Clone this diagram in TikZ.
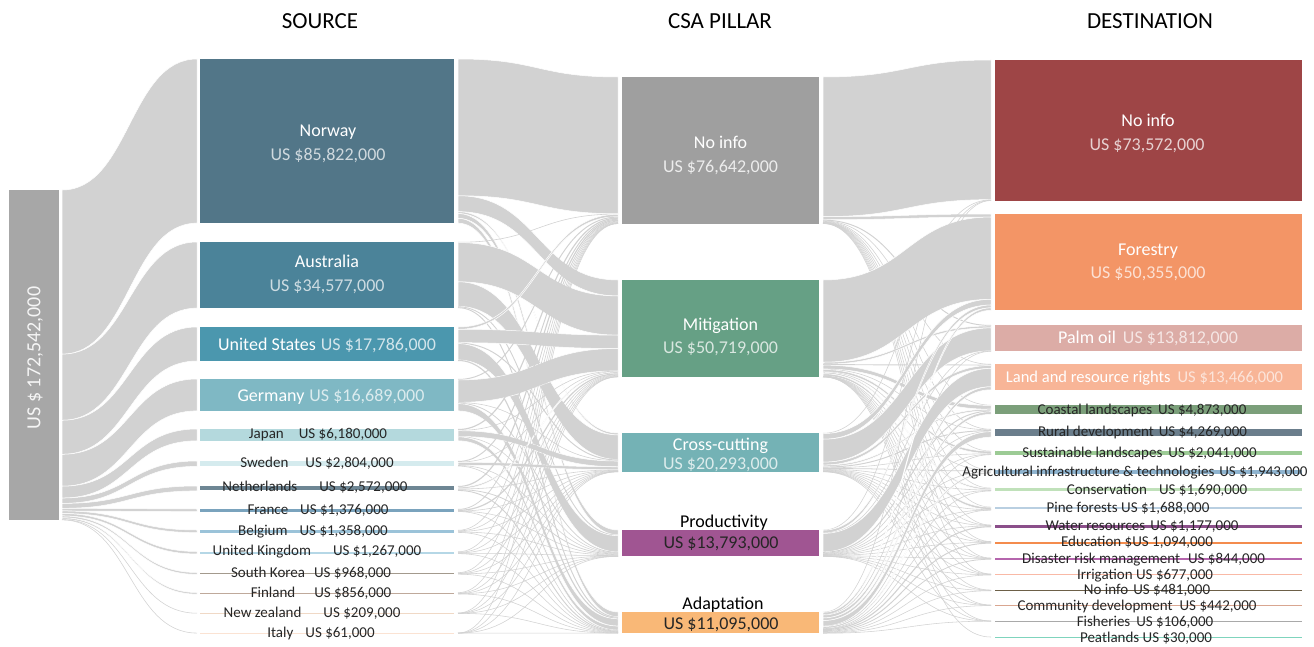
\documentclass[tikz,border=0pt]{standalone}
\usepackage{fontspec}
\setmainfont{Carlito}
\definecolor{linkgray}{HTML}{D2D2D2}
\definecolor{cTot}{HTML}{A7A7A7}
\definecolor{cNor}{HTML}{527688}
\definecolor{cAus}{HTML}{4B8399}
\definecolor{cUsa}{HTML}{4B97AE}
\definecolor{cGer}{HTML}{7FB8C4}
\definecolor{cJpn}{HTML}{B4D9DD}
\definecolor{cSwe}{HTML}{D5EBEE}
\definecolor{cNed}{HTML}{6E8694}
\definecolor{cFra}{HTML}{7AA3BD}
\definecolor{cBel}{HTML}{9BC3D9}
\definecolor{cGbr}{HTML}{B5D7E6}
\definecolor{cKor}{HTML}{A39A8D}
\definecolor{cFin}{HTML}{BFA99B}
\definecolor{cNzl}{HTML}{F0D9C6}
\definecolor{cIta}{HTML}{FBE3D3}
\definecolor{cPni}{HTML}{9F9F9F}
\definecolor{cMit}{HTML}{66A085}
\definecolor{cCrs}{HTML}{74B2B5}
\definecolor{cPro}{HTML}{A05592}
\definecolor{cAda}{HTML}{F9B877}
\definecolor{cDni}{HTML}{9E4546}
\definecolor{cDfo}{HTML}{F39566}
\definecolor{cDpa}{HTML}{DCACA6}
\definecolor{cDla}{HTML}{F8B597}
\definecolor{cDco}{HTML}{7B9F7A}
\definecolor{cDru}{HTML}{6B7E8C}
\definecolor{cDsu}{HTML}{9CCB95}
\definecolor{cDag}{HTML}{8FB4CF}
\definecolor{cDcn}{HTML}{C0E1BA}
\definecolor{cDpi}{HTML}{B9CFE1}
\definecolor{cDwa}{HTML}{8B4F8A}
\definecolor{cDed}{HTML}{F48C4D}
\definecolor{cDdi}{HTML}{B565AD}
\definecolor{cDir}{HTML}{F9B9A6}
\definecolor{cDns}{HTML}{6D6048}
\definecolor{cDcm}{HTML}{D9A690}
\definecolor{cDfi}{HTML}{A9A9A9}
\definecolor{cDpe}{HTML}{7FD4BD}
\def\skscale{1.9126}
\makeatletter
\newcommand\setnode[2]{\expandafter\xdef\csname sk@in@#1\endcsname{#2}\expandafter\xdef\csname sk@out@#1\endcsname{#2}}
\newcommand\sklink[5]{%
  \pgfmathsetmacro\sk@w{#3*\skscale}%
  \edef\sk@ya{\csname sk@out@#1\endcsname}%
  \edef\sk@yb{\csname sk@in@#2\endcsname}%
  \pgfmathsetmacro\sk@yaa{\sk@ya+\sk@w}%
  \pgfmathsetmacro\sk@ybb{\sk@yb+\sk@w}%
  \expandafter\xdef\csname sk@out@#1\endcsname{\sk@yaa}%
  \expandafter\xdef\csname sk@in@#2\endcsname{\sk@ybb}%
  \pgfmathsetmacro\sk@xm{(#4+#5)/2}%
  \ifdim\sk@w pt>1.3pt
    \filldraw[skband] (#4,\sk@ya) .. controls (\sk@xm,\sk@ya) and (\sk@xm,\sk@yb) .. (#5,\sk@yb) -- (#5,\sk@ybb) .. controls (\sk@xm,\sk@ybb) and (\sk@xm,\sk@yaa) .. (#4,\sk@yaa) -- cycle;
  \else
    \pgfmathsetmacro\sk@yc{\sk@ya+\sk@w/2}%
    \pgfmathsetmacro\sk@yd{\sk@yb+\sk@w/2}%
    \pgfmathsetmacro\sk@lw{max(\sk@w,0.55)}%
    \draw[skline, line width=\sk@lw pt] (#4,\sk@yc) .. controls (\sk@xm,\sk@yc) and (\sk@xm,\sk@yd) .. (#5,\sk@yd);
  \fi}
\makeatother
\newcommand\skbox[6]{\node[skbx, fill=#6, minimum width=#4pt, minimum height=#5pt] (#1) at (#2,#3) {};}
\begin{document}
\begin{tikzpicture}[x=1pt,y=-1pt,
  skband/.style={fill=linkgray, draw=white, line width=0.5pt},
  skline/.style={draw=linkgray},
  skbx/.style={anchor=north west, inner sep=0pt, outer sep=0pt, draw=none, rectangle},
  lblS/.style={inner sep=0pt, text height=9.7pt, text depth=0pt, font=\fontsize{15}{18}\selectfont, text=black!85},
  lblB/.style={inner sep=0pt, text height=11.6pt, text depth=0pt, font=\fontsize{18}{21}\selectfont},
  lblT/.style={inner sep=0pt, text height=15pt, text depth=0pt, font=\fontsize{23}{26}\selectfont, text=black}]
\useasboundingbox (0,0) rectangle (1314,647);
\fill[white] (0,0) rectangle (1314,647);
% titles
\node[lblT] (tsrc) at (320,21) {SOURCE};
\node[lblT] (tcsa) at (720,21) {CSA PILLAR};
\node[lblT] (tdst) at (1150,21) {DESTINATION};
% bookkeeping
\setnode{T}{190}
\setnode{nor}{59}\setnode{aus}{242}\setnode{usa}{327}\setnode{ger}{379}
\setnode{jpn}{429}\setnode{swe}{461}\setnode{ned}{486}\setnode{fra}{509}
\setnode{bel}{530}\setnode{gbr}{551.5}\setnode{kor}{572.5}\setnode{fin}{592.5}
\setnode{nzl}{613}\setnode{ita}{633}
\setnode{pni}{77}\setnode{mit}{280}\setnode{crs}{433}\setnode{pro}{530}\setnode{ada}{612}
\setnode{dni}{60}\setnode{dfo}{214}\setnode{dpa}{325}\setnode{dla}{364}
\setnode{dco}{405}\setnode{dru}{429}\setnode{dsu}{451}\setnode{dag}{470}
\setnode{dcn}{488}\setnode{dpi}{507}\setnode{dwa}{525}\setnode{ded}{541.5}
\setnode{ddi}{558}\setnode{dir}{574}\setnode{dns}{590}\setnode{dcm}{605}
\setnode{dfi}{621}\setnode{dpe}{637}
% total -> sources
\sklink{T}{nor}{85.822}{62}{197}
\sklink{T}{aus}{34.577}{62}{197}
\sklink{T}{usa}{17.786}{62}{197}
\sklink{T}{ger}{16.689}{62}{197}
\sklink{T}{jpn}{6.180}{62}{197}
\sklink{T}{swe}{2.804}{62}{197}
\sklink{T}{ned}{2.572}{62}{197}
\sklink{T}{fra}{1.376}{62}{197}
\sklink{T}{bel}{1.358}{62}{197}
\sklink{T}{gbr}{1.267}{62}{197}
\sklink{T}{kor}{0.968}{62}{197}
\sklink{T}{fin}{0.856}{62}{197}
\sklink{T}{nzl}{0.209}{62}{197}
\sklink{T}{ita}{0.061}{62}{197}
% sources -> pillars
\sklink{nor}{pni}{71.5}{458}{618}\sklink{nor}{mit}{8.322}{458}{618}\sklink{nor}{crs}{1.0}{458}{618}\sklink{nor}{pro}{2.5}{458}{618}\sklink{nor}{ada}{2.5}{458}{618}
\sklink{aus}{pni}{0.3}{458}{618}\sklink{aus}{mit}{20.5}{458}{618}\sklink{aus}{crs}{12.85}{458}{618}\sklink{aus}{pro}{0.45}{458}{618}\sklink{aus}{ada}{0.477}{458}{618}
\sklink{usa}{pni}{1.2}{458}{618}\sklink{usa}{mit}{7.0}{458}{618}\sklink{usa}{crs}{0.5}{458}{618}\sklink{usa}{pro}{8.5}{458}{618}\sklink{usa}{ada}{0.586}{458}{618}
\sklink{ger}{pni}{0.5}{458}{618}\sklink{ger}{mit}{11.689}{458}{618}\sklink{ger}{crs}{0.3}{458}{618}\sklink{ger}{pro}{0.4}{458}{618}\sklink{ger}{ada}{3.8}{458}{618}
\sklink{jpn}{pni}{0.6}{458}{618}\sklink{jpn}{mit}{0.3}{458}{618}\sklink{jpn}{crs}{3.0}{458}{618}\sklink{jpn}{pro}{0.2}{458}{618}\sklink{jpn}{ada}{2.08}{458}{618}
\sklink{swe}{pni}{0.5}{458}{618}\sklink{swe}{mit}{0.2}{458}{618}\sklink{swe}{crs}{1.5}{458}{618}\sklink{swe}{pro}{0.3}{458}{618}\sklink{swe}{ada}{0.304}{458}{618}
\sklink{ned}{pni}{0.6}{458}{618}\sklink{ned}{mit}{0.8}{458}{618}\sklink{ned}{crs}{0.3}{458}{618}\sklink{ned}{pro}{0.4}{458}{618}\sklink{ned}{ada}{0.472}{458}{618}
\sklink{fra}{pni}{0.4}{458}{618}\sklink{fra}{mit}{0.6}{458}{618}\sklink{fra}{crs}{0.1}{458}{618}\sklink{fra}{pro}{0.2}{458}{618}\sklink{fra}{ada}{0.076}{458}{618}
\sklink{bel}{pni}{0.3}{458}{618}\sklink{bel}{mit}{0.3}{458}{618}\sklink{bel}{crs}{0.3}{458}{618}\sklink{bel}{pro}{0.3}{458}{618}\sklink{bel}{ada}{0.158}{458}{618}
\sklink{gbr}{pni}{0.3}{458}{618}\sklink{gbr}{mit}{0.3}{458}{618}\sklink{gbr}{crs}{0.2}{458}{618}\sklink{gbr}{pro}{0.2}{458}{618}\sklink{gbr}{ada}{0.267}{458}{618}
\sklink{kor}{pni}{0.2}{458}{618}\sklink{kor}{mit}{0.3}{458}{618}\sklink{kor}{crs}{0.1}{458}{618}\sklink{kor}{pro}{0.2}{458}{618}\sklink{kor}{ada}{0.168}{458}{618}
\sklink{fin}{pni}{0.2}{458}{618}\sklink{fin}{mit}{0.3}{458}{618}\sklink{fin}{crs}{0.1}{458}{618}\sklink{fin}{pro}{0.1}{458}{618}\sklink{fin}{ada}{0.156}{458}{618}
\sklink{nzl}{pni}{0.05}{458}{618}\sklink{nzl}{mit}{0.05}{458}{618}\sklink{nzl}{crs}{0.05}{458}{618}\sklink{nzl}{pro}{0.03}{458}{618}\sklink{nzl}{ada}{0.029}{458}{618}
\sklink{ita}{pni}{0.02}{458}{618}\sklink{ita}{mit}{0.02}{458}{618}\sklink{ita}{crs}{0.01}{458}{618}\sklink{ita}{pro}{0.005}{458}{618}\sklink{ita}{ada}{0.006}{458}{618}
% pillars -> destinations
\sklink{pni}{dni}{73.0}{823}{991}\sklink{pni}{dfo}{1.6}{823}{991}\sklink{pni}{dpa}{0.5}{823}{991}\sklink{pni}{dla}{0.3}{823}{991}\sklink{pni}{dco}{0.2}{823}{991}\sklink{pni}{dru}{0.3}{823}{991}\sklink{pni}{dsu}{0.1}{823}{991}\sklink{pni}{dag}{0.1}{823}{991}\sklink{pni}{dcn}{0.1}{823}{991}\sklink{pni}{dpi}{0.1}{823}{991}\sklink{pni}{dwa}{0.1}{823}{991}\sklink{pni}{ded}{0.1}{823}{991}\sklink{pni}{ddi}{0.1}{823}{991}\sklink{pni}{dir}{0.042}{823}{991}
\sklink{mit}{dfo}{43.009}{823}{991}\sklink{mit}{dpa}{1.0}{823}{991}\sklink{mit}{dla}{0.5}{823}{991}\sklink{mit}{dco}{2.0}{823}{991}\sklink{mit}{dru}{0.3}{823}{991}\sklink{mit}{dsu}{1.2}{823}{991}\sklink{mit}{dag}{0.2}{823}{991}\sklink{mit}{dcn}{0.8}{823}{991}\sklink{mit}{dpi}{1.2}{823}{991}\sklink{mit}{dwa}{0.1}{823}{991}\sklink{mit}{ded}{0.1}{823}{991}\sklink{mit}{ddi}{0.05}{823}{991}\sklink{mit}{dir}{0.05}{823}{991}\sklink{mit}{dns}{0.1}{823}{991}\sklink{mit}{dcm}{0.05}{823}{991}\sklink{mit}{dfi}{0.03}{823}{991}\sklink{mit}{dpe}{0.03}{823}{991}
\sklink{crs}{dni}{0.3}{823}{991}\sklink{crs}{dfo}{2.963}{823}{991}\sklink{crs}{dpa}{12.0}{823}{991}\sklink{crs}{dla}{1.5}{823}{991}\sklink{crs}{dco}{0.8}{823}{991}\sklink{crs}{dru}{0.5}{823}{991}\sklink{crs}{dsu}{0.3}{823}{991}\sklink{crs}{dag}{0.4}{823}{991}\sklink{crs}{dcn}{0.3}{823}{991}\sklink{crs}{dpi}{0.2}{823}{991}\sklink{crs}{dwa}{0.2}{823}{991}\sklink{crs}{ded}{0.2}{823}{991}\sklink{crs}{ddi}{0.2}{823}{991}\sklink{crs}{dir}{0.2}{823}{991}\sklink{crs}{dns}{0.1}{823}{991}\sklink{crs}{dcm}{0.1}{823}{991}\sklink{crs}{dfi}{0.03}{823}{991}
\sklink{pro}{dni}{0.1}{823}{991}\sklink{pro}{dfo}{1.5}{823}{991}\sklink{pro}{dpa}{0.2}{823}{991}\sklink{pro}{dla}{9.623}{823}{991}\sklink{pro}{dco}{0.5}{823}{991}\sklink{pro}{dru}{0.3}{823}{991}\sklink{pro}{dsu}{0.2}{823}{991}\sklink{pro}{dag}{0.3}{823}{991}\sklink{pro}{dcn}{0.2}{823}{991}\sklink{pro}{dpi}{0.1}{823}{991}\sklink{pro}{dwa}{0.2}{823}{991}\sklink{pro}{ded}{0.2}{823}{991}\sklink{pro}{ddi}{0.1}{823}{991}\sklink{pro}{dir}{0.1}{823}{991}\sklink{pro}{dns}{0.1}{823}{991}\sklink{pro}{dcm}{0.05}{823}{991}\sklink{pro}{dfi}{0.02}{823}{991}
\sklink{ada}{dni}{0.172}{823}{991}\sklink{ada}{dfo}{1.283}{823}{991}\sklink{ada}{dpa}{0.112}{823}{991}\sklink{ada}{dla}{1.543}{823}{991}\sklink{ada}{dco}{1.373}{823}{991}\sklink{ada}{dru}{2.869}{823}{991}\sklink{ada}{dsu}{0.241}{823}{991}\sklink{ada}{dag}{0.943}{823}{991}\sklink{ada}{dcn}{0.29}{823}{991}\sklink{ada}{dpi}{0.088}{823}{991}\sklink{ada}{dwa}{0.577}{823}{991}\sklink{ada}{ded}{0.494}{823}{991}\sklink{ada}{ddi}{0.394}{823}{991}\sklink{ada}{dir}{0.285}{823}{991}\sklink{ada}{dns}{0.181}{823}{991}\sklink{ada}{dcm}{0.242}{823}{991}\sklink{ada}{dfi}{0.026}{823}{991}
% boxes
\skbox{tot}{9}{190}{50}{330}{cTot}
\skbox{nor}{200}{59}{254}{164.14}{cNor}
\skbox{aus}{200}{242}{254}{66.13}{cAus}
\skbox{usa}{200}{327}{254}{34.02}{cUsa}
\skbox{ger}{200}{379}{254}{31.92}{cGer}
\skbox{jpn}{200}{429}{254}{11.82}{cJpn}
\skbox{swe}{200}{461}{254}{5.36}{cSwe}
\skbox{ned}{200}{486}{254}{4.0}{cNed}
\skbox{fra}{200}{509}{254}{2.63}{cFra}
\skbox{bel}{200}{530}{254}{2.6}{cBel}
\skbox{gbr}{200}{551.5}{254}{2.0}{cGbr}
\skbox{kor}{200}{572.5}{254}{1.85}{cKor}
\skbox{fin}{200}{592.5}{254}{1.64}{cFin}
\skbox{nzl}{200}{613}{254}{1.0}{cNzl}
\skbox{ita}{200}{633}{254}{1.0}{cIta}
\skbox{pni}{622}{77}{197}{146.58}{cPni}
\skbox{mit}{622}{280}{197}{97.0}{cMit}
\skbox{crs}{622}{433}{197}{38.81}{cCrs}
\skbox{pro}{622}{530}{197}{26.38}{cPro}
\skbox{ada}{622}{612}{197}{21.22}{cAda}
\skbox{dni}{995}{60}{307}{140.71}{cDni}
\skbox{dfo}{995}{214}{307}{96.31}{cDfo}
\skbox{dpa}{995}{325}{307}{26.42}{cDpa}
\skbox{dla}{995}{364}{307}{25.75}{cDla}
\skbox{dco}{995}{405}{307}{9.32}{cDco}
\skbox{dru}{995}{429}{307}{7.0}{cDru}
\skbox{dsu}{995}{451}{307}{3.9}{cDsu}
\skbox{dag}{995}{470}{307}{3.72}{cDag}
\skbox{dcn}{995}{488}{307}{3.23}{cDcn}
\skbox{dpi}{995}{507}{307}{2.2}{cDpi}
\skbox{dwa}{995}{525}{307}{2.6}{cDwa}
\skbox{ded}{995}{541.5}{307}{2.6}{cDed}
\skbox{ddi}{995}{558}{307}{1.6}{cDdi}
\skbox{dir}{995}{574}{307}{1.4}{cDir}
\skbox{dns}{995}{590}{307}{1.2}{cDns}
\skbox{dcm}{995}{605}{307}{1.2}{cDcm}
\skbox{dfi}{995}{621}{307}{1.2}{cDfi}
\skbox{dpe}{995}{637}{307}{1.2}{cDpe}
% labels: total
\node[lblB, font=\fontsize{20}{22}\selectfont, text height=12.9pt, rotate=90, text=white!88!cTot] (ltot) at (34,358) {US \$ 172,542,000};
% labels: sources
\node[lblB, text=white] (lnor) at (328,131) {Norway};
\node[lblB, text=white!72!cNor] (vnor) at (328,155) {US \$85,822,000};
\node[lblB, text=white] (laus) at (327,262) {Australia};
\node[lblB, text=white!72!cAus] (vaus) at (327,286) {US \$34,577,000};
\node[lblB] (lusa) at (327,345) {\textcolor{white}{United States}\hspace{5pt}\textcolor{white!75!cUsa}{US \$17,786,000}};
\node[lblB] (lger) at (331,395.5) {\textcolor{white}{Germany}\hspace{5pt}\textcolor{white!72!cGer}{US \$16,689,000}};
\node[lblS] (ljpn) at (318,434) {Japan\hspace{15pt}US \$6,180,000};
\node[lblS] (lswe) at (317,463) {Sweden\hspace{17pt}US \$2,804,000};
\node[lblS] (lned) at (315,487) {Netherlands\hspace{22pt}US \$2,572,000};
\node[lblS] (lfra) at (318,509.5) {France\hspace{12pt}US \$1,376,000};
\node[lblS] (lbel) at (313,530.5) {Belgium\hspace{12pt}US \$1,358,000};
\node[lblS] (lgbr) at (317,551) {United Kingdom\hspace{22pt}US \$1,267,000};
\node[lblS] (lkor) at (311,572.5) {South Korea\hspace{9pt}US \$968,000};
\node[lblS] (lfin) at (321,592.5) {Finland\hspace{19pt}US \$856,000};
\node[lblS] (lnzl) at (312,612.5) {New zealand\hspace{22pt}US \$209,000};
\node[lblS] (lita) at (321,632.5) {Italy\hspace{12pt}US \$61,000};
% labels: pillars
\node[lblB, text=white] (lpni) at (720.5,143) {No info};
\node[lblB, text=white!80!cPni] (vpni) at (720.5,167) {US \$76,642,000};
\node[lblB, text=white] (lmit) at (720.5,325) {Mitigation};
\node[lblB, text=white!75!cMit] (vmit) at (720.5,348) {US \$50,719,000};
\node[lblB, text=white] (lcrs) at (720.5,445) {Cross-cutting};
\node[lblB, text=white!75!cCrs] (vcrs) at (720.5,463.5) {US \$20,293,000};
\node[lblB, text=black] (lpro) at (724,521.5) {Productivity};
\node[lblB, text=black!85] (vpro) at (721,543) {US \$13,793,000};
\node[lblB, text=black] (lada) at (723,603.5) {Adaptation};
\node[lblB, text=black!85] (vada) at (721,624) {US \$11,095,000};
% labels: destinations
\node[lblB, text=white] (ldni) at (1148,120.5) {No info};
\node[lblB, text=white!75!cDni] (vdni) at (1147,144.5) {US \$73,572,000};
\node[lblB, text=white] (ldfo) at (1148,250) {Forestry};
\node[lblB, text=white!72!cDfo] (vdfo) at (1148,272.5) {US \$50,355,000};
\node[lblB] (ldpa) at (1148,337.5) {\textcolor{white}{Palm oil}\hspace{7pt}\textcolor{white!70!cDpa}{US \$13,812,000}};
\node[lblB, font=\fontsize{16.5}{19}\selectfont, text height=10.6pt] (ldla) at (1144.5,377.5) {\textcolor{white}{Land and resource rights}\hspace{7pt}\textcolor{white!65!cDla}{US \$13,466,000}};
\node[lblS] (ldco) at (1142,409.5) {Coastal landscapes\hspace{6pt}US \$4,873,000};
\node[lblS] (ldru) at (1142.5,432) {Rural development\hspace{5pt}US \$4,269,000};
\node[lblS] (ldsu) at (1139.5,453) {Sustainable landscapes\hspace{6pt}US \$2,041,000};
\node[lblS] (ldag) at (1135,471.5) {Agricultural infrastructure \& technologies\hspace{5pt}US \$1,943,000};
\node[lblS] (ldcn) at (1157,489.5) {Conservation\hspace{12pt}US \$1,690,000};
\node[lblS] (ldpi) at (1128,508) {Pine forests US \$1,688,000};
\node[lblS] (ldwa) at (1142,525.5) {Water resources\hspace{5pt}US \$1,177,000};
\node[lblS] (lded) at (1137,542) {Education \$US 1,094,000};
\node[lblS] (lddi) at (1143.5,558.5) {Disaster risk management\hspace{8pt}US \$844,000};
\node[lblS] (ldir) at (1145,575) {Irrigation US \$677,000};
\node[lblS] (ldns) at (1147,590) {No info\hspace{5pt}US \$481,000};
\node[lblS] (ldcm) at (1137,605.5) {Community development\hspace{7pt}US \$442,000};
\node[lblS] (ldfi) at (1145,621.5) {Fisheries\hspace{6pt}US \$106,000};
\node[lblS] (ldpe) at (1146,637.5) {Peatlands US \$30,000};
\end{tikzpicture}
\end{document}
